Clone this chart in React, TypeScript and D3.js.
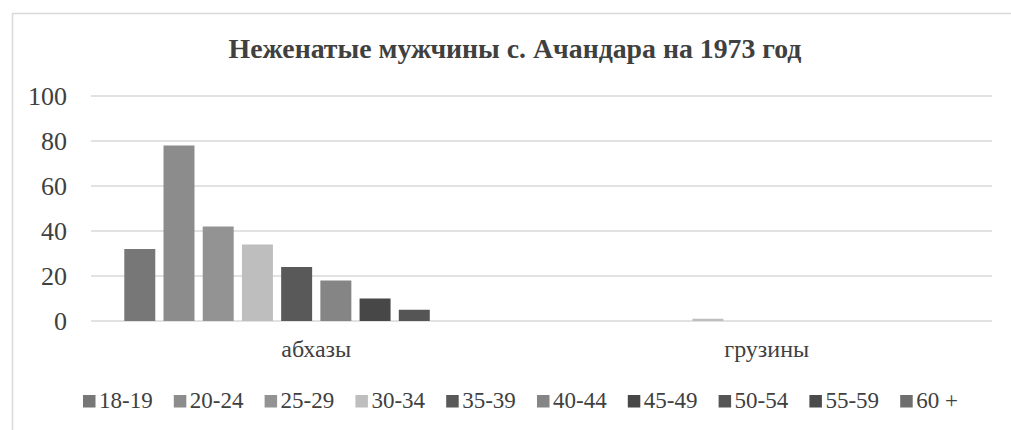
import React from "react";
import * as d3 from "d3";

// Unmarried men of Achandara village, 1973, by nationality and age group
const title = "Неженатые мужчины с. Ачандара на 1973 год";
const categories = ["абхазы", "грузины"];
const ageGroups = ["18-19", "20-24", "25-29", "30-34", "35-39", "40-44", "45-49", "50-54", "55-59", "60 +"];
const abkhazValues = [32, 78, 42, 34, 24, 18, 10, 5, 0, 0];
const georgianValues = [0, 0, 0, 1, 0, 0, 0, 0, 0, 0];
const yTicks = [0, 20, 40, 60, 80, 100];
const seriesColors = [
  "#777777", "#8c8c8c", "#939393", "#bebebe", "#595959",
  "#858585", "#474747", "#555555", "#4b4b4b", "#6e6e6e",
];

const W = 1011;
const H = 430;
const serif = { fontFamily: '"Liberation Serif", "Times New Roman", serif' };

export default function App() {
  const valuesByCategory = [abkhazValues, georgianValues];

  const plotLeft = 91;
  const plotRight = 992;
  const y = d3.scaleLinear().domain([0, 100]).range([321, 96]);

  const x0 = d3.scaleBand<string>().domain(categories).range([plotLeft, plotRight]).padding(0);
  const groupInset = 33.3;
  const x1 = d3
    .scaleBand<string>()
    .domain(ageGroups)
    .range([groupInset, x0.bandwidth() - groupInset])
    .paddingInner(0.21)
    .paddingOuter(0);

  const legendX = d3
    .scaleBand<string>()
    .domain(ageGroups)
    .range([83, 83 + 90.8 * ageGroups.length]);

  const gridColor = "#d9d9d9";
  const textColor = "#404040";

  return (
    <svg width={W} height={H} style={{ position: "absolute", left: 0, top: 0, background: "#fff" }}>
      <rect x={12.5} y={13.5} width={W + 20} height={H + 20} fill="#fff" stroke={gridColor} strokeWidth={1.5} />

      <text x={515} y={58} textAnchor="middle" fontSize={27.8} fontWeight="bold" fill={textColor} style={serif}>
        {title}
      </text>

      {yTicks.map((t) => (
        <g key={t}>
          <line x1={plotLeft} x2={plotRight} y1={y(t)} y2={y(t)} stroke={gridColor} strokeWidth={1.5} />
          <text x={67} y={y(t) + 9} textAnchor="end" fontSize={26} fill={textColor} style={serif}>
            {t}
          </text>
        </g>
      ))}

      {categories.map((c, ci) => (
        <g key={c} transform={`translate(${x0(c)},0)`}>
          {ageGroups.map((a, i) => {
            const v = valuesByCategory[ci][i];
            if (v <= 0) return null;
            return (
              <rect
                key={a}
                x={x1(a)}
                y={y(v)}
                width={x1.bandwidth()}
                height={y(0) - y(v)}
                fill={seriesColors[i]}
              />
            );
          })}
          <text x={x0.bandwidth() / 2} y={357} textAnchor="middle" fontSize={24} fill={textColor} style={serif}>
            {c}
          </text>
        </g>
      ))}

      {ageGroups.map((a, i) => (
        <g key={a} transform={`translate(${legendX(a)},0)`}>
          <rect x={0} y={395} width={12.5} height={12.5} fill={seriesColors[i]} />
          <text x={16} y={408} fontSize={23} fill={textColor} style={serif}>
            {a}
          </text>
        </g>
      ))}
    </svg>
  );
}
